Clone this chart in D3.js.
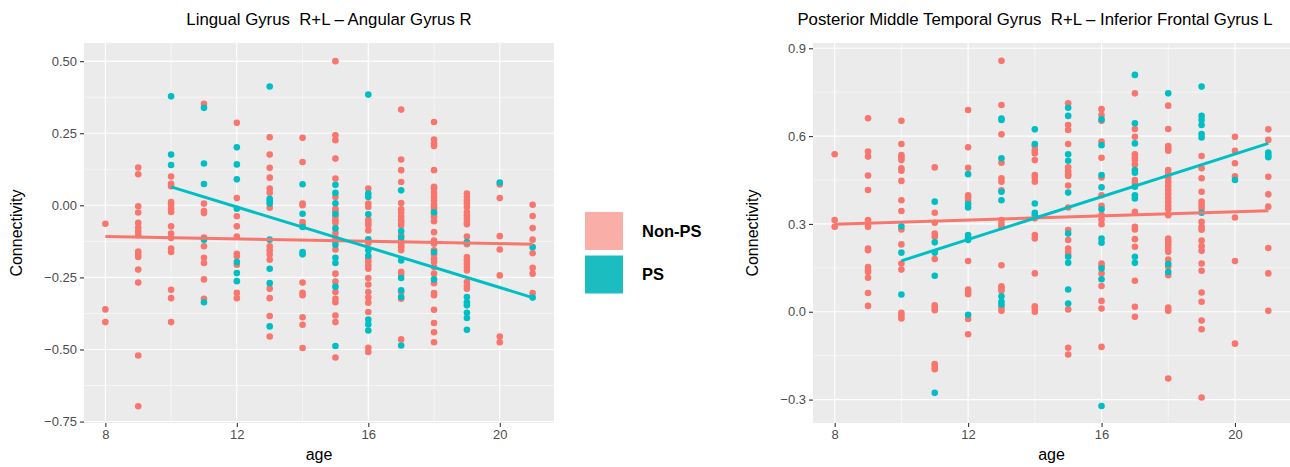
<!DOCTYPE html>
<html>
<head>
<meta charset="utf-8">
<title>Connectivity by age</title>
<script src="https://d3js.org/d3.v7.min.js"></script>
<style>
  body { margin: 0; background: #fff; }
  text { font-family: "Liberation Sans", Arial, sans-serif; }
</style>
</head>
<body>
<div id="chart"></div>
<script>
// ages present on the x axis
var ages = [8, 9, 10, 11, 12, 13, 14, 15, 16, 17, 18, 19, 20, 21]

// Lingual Gyrus R+L - Angular Gyrus R, values per age (index matches ages)
var lingualNonPS = [
  [-0.064, -0.361, -0.405],
  [0.131, 0.108, -0.003, -0.025, -0.061, -0.078, -0.091, -0.104, -0.160, -0.171, -0.179, -0.223, -0.268, -0.521, -0.697],
  [0.100, 0.075, 0.066, 0.011, 0.002, -0.012, -0.023, -0.073, -0.098, -0.113, -0.150, -0.162, -0.293, -0.322, -0.405],
  [0.352, 0.006, -0.020, -0.027, -0.112, -0.142, -0.182, -0.200, -0.257, -0.324],
  [0.286, 0.025, -0.038, -0.073, -0.108, -0.168, -0.177, -0.206, -0.303, -0.322],
  [0.236, 0.176, 0.130, 0.096, 0.058, 0.044, -0.008, -0.142, -0.156, -0.171, -0.189, -0.289, -0.322, -0.384, -0.455],
  [0.234, 0.150, 0.006, 0.000, -0.058, -0.067, -0.268, -0.303, -0.312, -0.388, -0.414, -0.495],
  [0.500, 0.243, 0.226, 0.162, 0.093, 0.029, -0.012, -0.020, -0.040, -0.052, -0.061, -0.096, -0.112, -0.125, -0.153, -0.237, -0.264, -0.301, -0.324, -0.336, -0.382, -0.405, -0.528],
  [0.058, 0.006, -0.006, -0.050, -0.060, -0.069, -0.087, -0.131, -0.185, -0.195, -0.208, -0.220, -0.252, -0.275, -0.301, -0.320, -0.338, -0.370, -0.494, -0.509],
  [0.332, 0.159, 0.122, 0.081, 0.008, -0.014, -0.025, -0.040, -0.052, -0.061, -0.070, -0.104, -0.122, -0.130, -0.139, -0.145, -0.156, -0.231, -0.240, -0.301, -0.324, -0.465],
  [0.289, 0.228, 0.214, 0.206, 0.122, 0.064, 0.058, 0.043, 0.029, 0.017, 0.003, -0.005, -0.012, -0.030, -0.040, -0.055, -0.093, -0.122, -0.133, -0.156, -0.170, -0.185, -0.197, -0.214, -0.237, -0.270, -0.304, -0.312, -0.362, -0.408, -0.440, -0.475],
  [0.041, 0.029, 0.017, 0.006, -0.006, -0.023, -0.035, -0.046, -0.058, -0.066, -0.108, -0.135, -0.179, -0.191, -0.203, -0.214, -0.226, -0.266, -0.278, -0.289],
  [0.072, 0.025, -0.107, -0.153, -0.243, -0.455, -0.475],
  [0.002, -0.037, -0.079, -0.119, -0.166, -0.217, -0.237, -0.304]
]
var lingualPS = [
  [], [],
  [0.378, 0.176, 0.140],
  [0.338, 0.145, 0.074, -0.119, -0.336],
  [0.201, 0.142, 0.090, -0.012, -0.197, -0.235, -0.263],
  [0.412, 0.023, 0.015, 0.006, -0.119, -0.220, -0.270, -0.420],
  [0.073, -0.029, -0.075, -0.162, -0.170],
  [0.071, 0.043, 0.007, -0.030, -0.080, -0.137, -0.182, -0.200, -0.282, -0.488],
  [0.384, 0.041, 0.029, -0.031, -0.118, -0.156, -0.175, -0.396, -0.413, -0.434],
  [0.052, -0.089, -0.112, -0.191, -0.252, -0.295, -0.318, -0.486],
  [-0.024, -0.162, -0.257],
  [-0.127, -0.318, -0.336, -0.347, -0.373, -0.391, -0.432],
  [0.079],
  [-0.145, -0.320]
]
// fitted lines, [age, value] at both ends
var lingualFitNonPS = [[8, -0.108], [21, -0.135]]
var lingualFitPS = [[10, 0.064], [21, -0.320]]

// Posterior Middle Temporal Gyrus R+L - Inferior Frontal Gyrus L
var temporalNonPS = [
  [0.538, 0.313, 0.290],
  [0.661, 0.547, 0.530, 0.465, 0.416, 0.313, 0.302, 0.290, 0.216, 0.210, 0.153, 0.142, 0.136, 0.116, 0.064, 0.020],
  [0.652, 0.573, 0.535, 0.527, 0.518, 0.490, 0.482, 0.447, 0.381, 0.344, 0.281, 0.230, 0.165, 0.144, -0.004, -0.014, -0.023],
  [0.493, 0.338, 0.304, 0.267, 0.256, 0.180, 0.022, 0.014, 0.005, -0.179, -0.188, -0.196],
  [0.689, 0.562, 0.492, 0.398, 0.390, 0.380, 0.173, 0.076, 0.068, 0.060, -0.025, -0.077],
  [0.857, 0.706, 0.606, 0.509, 0.456, 0.444, 0.415, 0.313, 0.300, 0.290, 0.159, 0.087, 0.080, 0.072, 0.014, 0.003],
  [0.566, 0.552, 0.541, 0.518, 0.467, 0.458, 0.444, 0.319, 0.262, 0.250, 0.131, 0.019, 0.011, 0.000],
  [0.712, 0.638, 0.621, 0.573, 0.493, 0.480, 0.470, 0.464, 0.431, 0.356, 0.279, 0.245, 0.216, 0.205, 0.194, 0.008, -0.123, -0.146],
  [0.692, 0.672, 0.652, 0.581, 0.526, 0.459, 0.398, 0.362, 0.330, 0.315, 0.299, 0.165, 0.156, 0.131, 0.088, 0.037, 0.011, -0.120],
  [0.746, 0.624, 0.598, 0.538, 0.528, 0.518, 0.503, 0.450, 0.440, 0.341, 0.290, 0.281, 0.248, 0.222, 0.106, 0.017, -0.017],
  [0.704, 0.624, 0.566, 0.558, 0.550, 0.484, 0.470, 0.457, 0.443, 0.430, 0.416, 0.402, 0.388, 0.375, 0.362, 0.350, 0.330, 0.250, 0.240, 0.230, 0.218, 0.205, 0.178, 0.154, 0.125, 0.014, 0.003, -0.228],
  [0.532, 0.490, 0.456, 0.410, 0.376, 0.365, 0.353, 0.307, 0.290, 0.280, 0.243, 0.224, 0.208, 0.165, 0.140, 0.066, 0.034, -0.030, -0.060, -0.293],
  [0.598, 0.550, 0.507, 0.463, 0.322, 0.173, -0.109],
  [0.623, 0.587, 0.461, 0.401, 0.359, 0.218, 0.131, 0.003]
]
var temporalPS = [
  [], [],
  [0.292, 0.202, 0.059],
  [0.376, 0.237, 0.202, 0.123, -0.277],
  [0.470, 0.368, 0.356, 0.262, 0.253, 0.245, -0.010],
  [0.660, 0.655, 0.524, 0.410, 0.381, 0.053, 0.034, 0.025],
  [0.623, 0.573, 0.370, 0.338, 0.330],
  [0.697, 0.669, 0.538, 0.516, 0.407, 0.267, 0.188, 0.167, 0.076, 0.028],
  [0.657, 0.569, 0.467, 0.425, 0.350, 0.250, 0.236, 0.148, 0.111, -0.322],
  [0.809, 0.644, 0.575, 0.484, 0.475, 0.427, 0.398, 0.387, 0.188, 0.167],
  [0.746, 0.163, 0.136],
  [0.769, 0.669, 0.655, 0.638, 0.607, 0.595, 0.338],
  [0.450],
  [0.544, 0.535, 0.528]
]
var temporalFitNonPS = [[8, 0.299], [21, 0.345]]
var temporalFitPS = [[10, 0.174], [21, 0.575]]

var xTicks = [8, 12, 16, 20]
var xMinor = [10, 14, 18]
var lingualTicks = [-0.75, -0.5, -0.25, 0, 0.25, 0.5]
var lingualMinor = [-0.625, -0.375, -0.125, 0.125, 0.375]
var temporalTicks = [-0.3, 0, 0.3, 0.6, 0.9]
var temporalMinor = [-0.15, 0.15, 0.45, 0.75]

var groups = ["Non-PS", "PS"]
var colors = {"Non-PS": "#F8766D", "PS": "#00BFC4"}
var keyColors = {"Non-PS": "#F9AFA7", "PS": "#1BBDC1"}

var svg = d3.select("#chart").append("svg")
    .attr("width", 1290)
    .attr("height", 467)

function flatten(vals) {
  var out = []
  vals.forEach(function(col, i) {
    col.forEach(function(v) { out.push([ages[i], v]) })
  })
  return out
}

function drawPanel(p) {
  var x = d3.scaleLinear().domain([7.35, 21.65]).range([p.left, p.right])
  var y = d3.scaleLinear().domain(p.yDomain).range([423, 43])
  var g = svg.append("g")

  g.append("rect")
    .attr("x", p.left).attr("y", 43)
    .attr("width", p.right - p.left).attr("height", 380)
    .attr("fill", "#EBEBEB")

  // minor grid
  g.selectAll(".ymin").data(p.yMinor).join("line")
    .attr("x1", p.left).attr("x2", p.right)
    .attr("y1", d => y(d)).attr("y2", d => y(d))
    .attr("stroke", "#fff").attr("stroke-width", 0.55)
  g.selectAll(".xmin").data(xMinor).join("line")
    .attr("y1", 43).attr("y2", 423)
    .attr("x1", d => x(d)).attr("x2", d => x(d))
    .attr("stroke", "#fff").attr("stroke-width", 0.55)
  // major grid
  g.selectAll(".ymaj").data(p.yTicks).join("line")
    .attr("x1", p.left).attr("x2", p.right)
    .attr("y1", d => y(d)).attr("y2", d => y(d))
    .attr("stroke", "#fff").attr("stroke-width", 1.1)
  g.selectAll(".xmaj").data(xTicks).join("line")
    .attr("y1", 43).attr("y2", 423)
    .attr("x1", d => x(d)).attr("x2", d => x(d))
    .attr("stroke", "#fff").attr("stroke-width", 1.1)

  // axes
  var yAxis = g.append("g")
    .attr("transform", "translate(" + p.left + ",0)")
    .call(d3.axisLeft(y).tickValues(p.yTicks).tickSize(4).tickPadding(3)
      .tickFormat(d => d3.format(p.fmt)(d).replace("-", "\u2212")))
  var xAxis = g.append("g")
    .attr("transform", "translate(0,423)")
    .call(d3.axisBottom(x).tickValues(xTicks).tickSize(4).tickPadding(3))
  ;[xAxis, yAxis].forEach(function(a) {
    a.select(".domain").remove()
    a.selectAll(".tick line").attr("stroke", "#333").attr("stroke-width", 1.1)
    a.selectAll(".tick text").attr("fill", "#4D4D4D")
      .style("font-size", "13px").style("font-family", "Liberation Sans, Arial, sans-serif")
  })

  // points
  groups.forEach(function(grp) {
    g.append("g").selectAll("circle")
      .data(flatten(p.points[grp]))
      .join("circle")
        .attr("cx", d => x(d[0]))
        .attr("cy", d => y(d[1]))
        .attr("r", 3.3)
        .attr("fill", colors[grp])
  })

  // fitted lines
  var line = d3.line().x(d => x(d[0])).y(d => y(d[1]))
  groups.forEach(function(grp) {
    g.append("path")
      .attr("d", line(p.fits[grp]))
      .attr("fill", "none")
      .attr("stroke", colors[grp])
      .attr("stroke-width", 3)
  })

  // titles
  g.append("text")
    .attr("x", p.titleX).attr("y", 25)
    .attr("text-anchor", "middle")
    .style("font-size", "16.8px")
    .style("white-space", "pre")
    .text(p.title)
  g.append("text")
    .attr("x", (p.left + p.right) / 2).attr("y", 460)
    .attr("text-anchor", "middle")
    .style("font-size", "16px")
    .text("age")
  g.append("text")
    .attr("transform", "translate(" + p.yLabelX + ",233) rotate(-90)")
    .attr("text-anchor", "middle")
    .style("font-size", "16px")
    .text("Connectivity")
}

drawPanel({
  left: 84, right: 554,
  yDomain: [-0.755, 0.563],
  yTicks: lingualTicks, yMinor: lingualMinor, fmt: ".2f",
  points: {"Non-PS": lingualNonPS, "PS": lingualPS},
  fits: {"Non-PS": lingualFitNonPS, "PS": lingualFitPS},
  title: "Lingual Gyrus  R+L \u2013 Angular Gyrus R",
  titleX: 329, yLabelX: 22
})

drawPanel({
  left: 813, right: 1290,
  yDomain: [-0.38, 0.918],
  yTicks: temporalTicks, yMinor: temporalMinor, fmt: ".1f",
  points: {"Non-PS": temporalNonPS, "PS": temporalPS},
  fits: {"Non-PS": temporalFitNonPS, "PS": temporalFitPS},
  title: "Posterior Middle Temporal Gyrus  R+L \u2013 Inferior Frontal Gyrus L",
  titleX: 1035, yLabelX: 758
})

// legend
var legend = svg.append("g").attr("transform", "translate(585,212)")
groups.forEach(function(grp, i) {
  legend.append("rect")
    .attr("x", 0).attr("y", i * 43.5)
    .attr("width", 38).attr("height", 38)
    .attr("fill", keyColors[grp])
  legend.append("text")
    .attr("x", 57).attr("y", i * 43.5 + 19)
    .attr("dy", "0.35em")
    .style("font-size", "16.5px")
    .style("font-weight", "bold")
    .text(grp)
})
</script>
</body>
</html>
